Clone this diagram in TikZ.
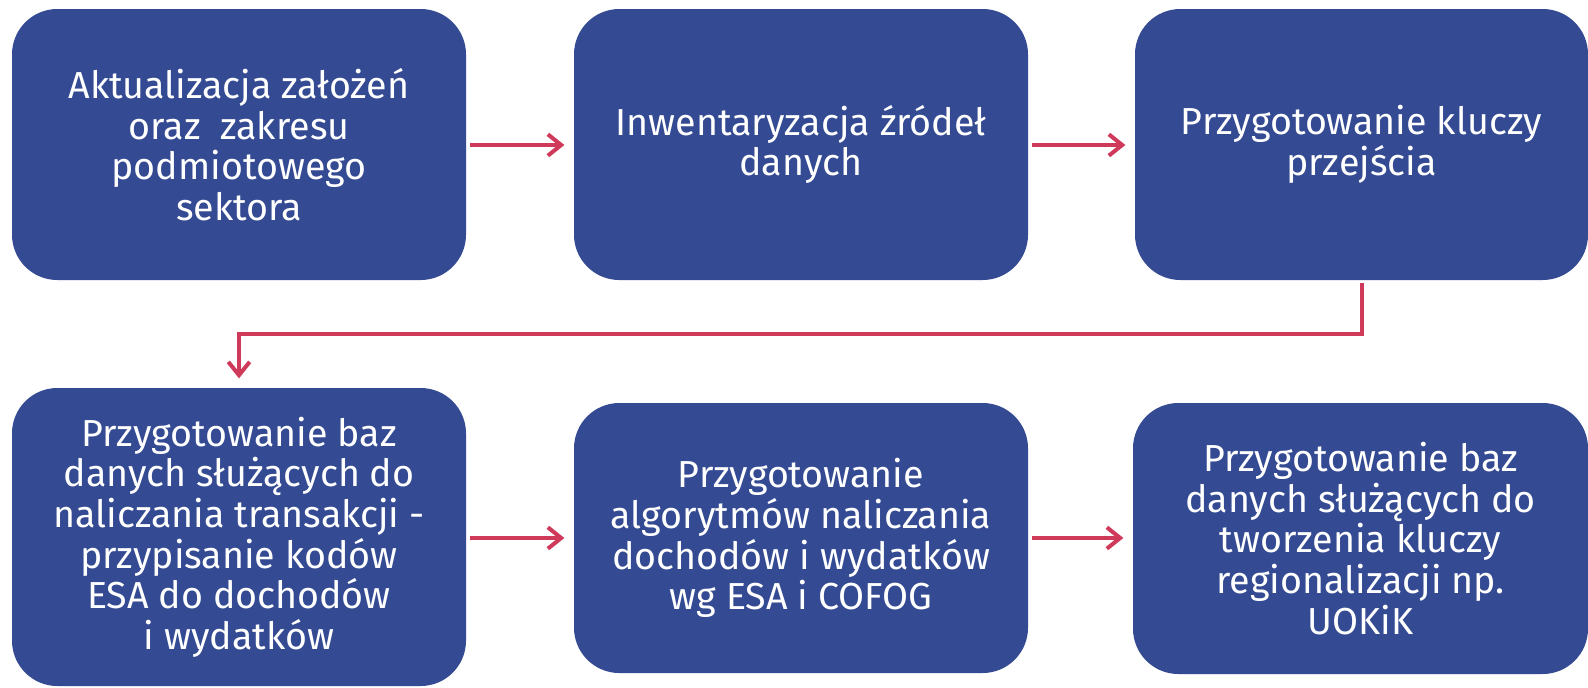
\documentclass[tikz,border=0pt]{standalone}
\usepackage{fontspec}
\setmainfont{Fira Sans}
\usetikzlibrary{arrows.meta}
\definecolor{boxblue}{RGB}{52,74,146}
\definecolor{arrred}{RGB}{207,58,90}
\begin{document}
\begin{tikzpicture}[x=0.75pt,y=-0.75pt,
  stepbox/.style={fill=boxblue,draw=none,rounded corners=34pt,text=white,
    align=center,inner sep=0pt,font=\fontsize{28.2pt}{30.5pt}\selectfont},
  arr/.style={draw=arrred,line width=3pt,-{Straight Barb[length=10pt,width=16pt]}}]
\useasboundingbox (0,0) rectangle (1588,687);
\node[stepbox,minimum width=454*0.75pt,minimum height=271*0.75pt] (b1) at (239,144.5)
  {Aktualizacja założeń\\oraz~ zakresu\\podmiotowego\\sektora};
\node[stepbox,minimum width=454*0.75pt,minimum height=271*0.75pt] (b2) at (801,144.5)
  {Inwentaryzacja źródeł\\danych};
\node[stepbox,minimum width=453*0.75pt,minimum height=271*0.75pt] (b3) at (1361.5,144.5)
  {Przygotowanie kluczy\\przejścia};
\node[stepbox,minimum width=454*0.75pt,minimum height=298*0.75pt] (b4) at (239,537)
  {Przygotowanie baz\\danych służących do\\naliczania transakcji -\\przypisanie kodów\\ESA do dochodów\\i wydatków};
\node[stepbox,minimum width=454*0.75pt,minimum height=270*0.75pt] (b5) at (801,538)
  {Przygotowanie\\algorytmów naliczania\\dochodów i wydatków\\wg ESA i COFOG};
\node[stepbox,minimum width=455*0.75pt,minimum height=271*0.75pt] (b6) at (1360.5,538.5)
  {Przygotowanie baz\\danych służących do\\tworzenia kluczy\\regionalizacji np.\\UOKiK};
\draw[arr,shorten <=3pt,shorten >=7pt] (b1.east |- 0,145) -- (b2.west |- 0,145);
\draw[arr,shorten <=3pt,shorten >=7pt] (b2.east |- 0,145) -- (b3.west |- 0,145);
\draw[arr,shorten <=2pt,shorten >=7pt] (b3.south) -- ++(0,54) -| (b4.north);
\draw[arr,shorten <=3pt,shorten >=7pt] (b4.east |- 0,538) -- (b5.west |- 0,538);
\draw[arr,shorten <=3pt,shorten >=7pt] (b5.east |- 0,538) -- (b6.west |- 0,538);
\end{tikzpicture}
\end{document}
